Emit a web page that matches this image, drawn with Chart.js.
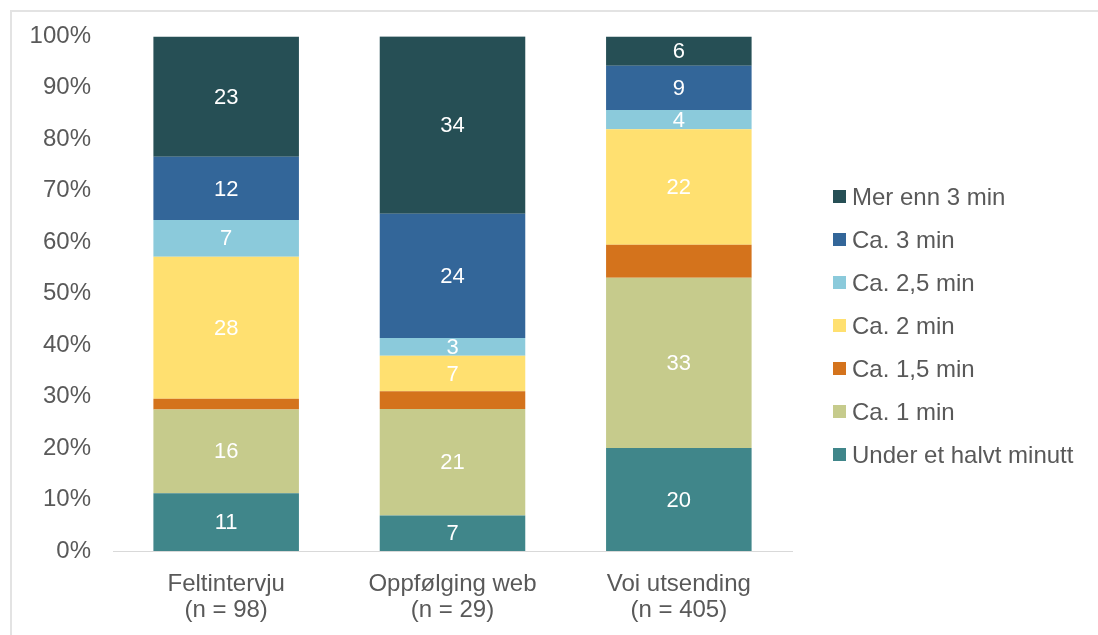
<!DOCTYPE html>
<html>
<head>
<meta charset="utf-8">
<script src="https://cdn.jsdelivr.net/npm/chart.js@4"></script>
<style>
    html, body { margin: 0; padding: 0; background: #fff; }
    #wrap { position: relative; width: 1098px; height: 635px; overflow: hidden; font-family: "Liberation Sans", Arial, sans-serif; }
    #frame { position: absolute; left: 10px; top: 10px; right: 0; bottom: 0; border-left: 2px solid #e3e3e3; border-top: 2px solid #e3e3e3; }
    #chart { position: absolute; left: 0; top: 0; }
    #legend { position: absolute; left: 833px; top: 175px; }
    .item { height: 43px; display: flex; align-items: center; font-size: 24px; color: #595959; white-space: nowrap; }
    .swatch { width: 13px; height: 13px; margin-right: 6px; flex: none; }
</style>
</head>
<body>
<div id="wrap">
    <div id="frame"></div>
    <canvas id="chart" width="1098" height="635"></canvas>
    <div id="legend"></div>
</div>
<script>
const categories = [["Feltintervju", "(n = 98)"], ["Oppfølging web", "(n = 29)"], ["Voi utsending", "(n = 405)"]];
const seriesNames = ["Under et halvt minutt", "Ca. 1 min", "Ca. 1,5 min", "Ca. 2 min", "Ca. 2,5 min", "Ca. 3 min", "Mer enn 3 min"];
const underHalvt = [11.2, 6.90, 20.00];
const ca1 = [16.3, 20.69, 33.09];
const ca15 = [2.1, 3.45, 6.42];
const ca2 = [27.6, 6.90, 22.47];
const ca25 = [7.1, 3.45, 3.70];
const ca3 = [12.3, 24.14, 8.64];
const mer3 = [23.4, 34.48, 5.68];
const yTicks = [0, 10, 20, 30, 40, 50, 60, 70, 80, 90, 100];

const colors = ["#40868a", "#c6cb8c", "#d4731c", "#ffe070", "#8bcadb", "#336699", "#264f55"];
const values = [underHalvt, ca1, ca15, ca2, ca25, ca3, mer3];
const fontFamily = "'Liberation Sans', Arial, sans-serif";

// white value labels in the middle of each segment (the 1,5 min series has none)
const valueLabels = {
    id: "valueLabels",
    afterDatasetsDraw(chart) {
        const ctx = chart.ctx;
        ctx.save();
        ctx.fillStyle = "#ffffff";
        ctx.font = "22px " + fontFamily;
        ctx.textAlign = "center";
        ctx.textBaseline = "middle";
        chart.data.datasets.forEach((ds, i) => {
            if (ds.label === "Ca. 1,5 min") return;
            chart.getDatasetMeta(i).data.forEach((bar, j) => {
                const p = bar.getProps(["x", "y", "base"], true);
                ctx.fillText(String(Math.round(ds.data[j])), p.x, (p.y + p.base) / 2 + 1);
            });
        });
        ctx.restore();
    }
};

new Chart(document.getElementById("chart"), {
    type: "bar",
    data: {
        labels: categories,
        datasets: seriesNames.map((name, i) => ({
            label: name,
            data: values[i],
            backgroundColor: colors[i],
            borderWidth: 0,
            categoryPercentage: 1,
            barPercentage: 0.643
        }))
    },
    options: {
        responsive: false,
        animation: false,
        layout: { padding: { left: 0, top: 36, right: 306, bottom: 0 } },
        plugins: {
            legend: { display: false },
            tooltip: { enabled: false }
        },
        scales: {
            x: {
                stacked: true,
                afterFit: (axis) => { axis.height = 84; },
                grid: { display: false },
                border: { display: true, color: "#d9d9d9", width: 1 },
                ticks: {
                    color: "#595959",
                    padding: 12,
                    font: { family: fontFamily, size: 24, lineHeight: 1.08 }
                }
            },
            y: {
                stacked: true,
                min: 0,
                max: 100,
                afterFit: (axis) => { axis.width = 113; },
                afterBuildTicks: (axis) => { axis.ticks = yTicks.map(v => ({ value: v })); },
                grid: { display: false, drawTicks: false },
                border: { display: false },
                ticks: {
                    color: "#595959",
                    padding: 22,
                    callback: (v) => v + "%",
                    font: { family: fontFamily, size: 24 }
                }
            }
        }
    },
    plugins: [valueLabels]
});

const legend = document.getElementById("legend");
for (let i = seriesNames.length - 1; i >= 0; i--) {
    const item = document.createElement("div");
    item.className = "item";
    item.innerHTML = '<span class="swatch" style="background:' + colors[i] + '"></span>' + seriesNames[i];
    legend.appendChild(item);
}
</script>
</body>
</html>
